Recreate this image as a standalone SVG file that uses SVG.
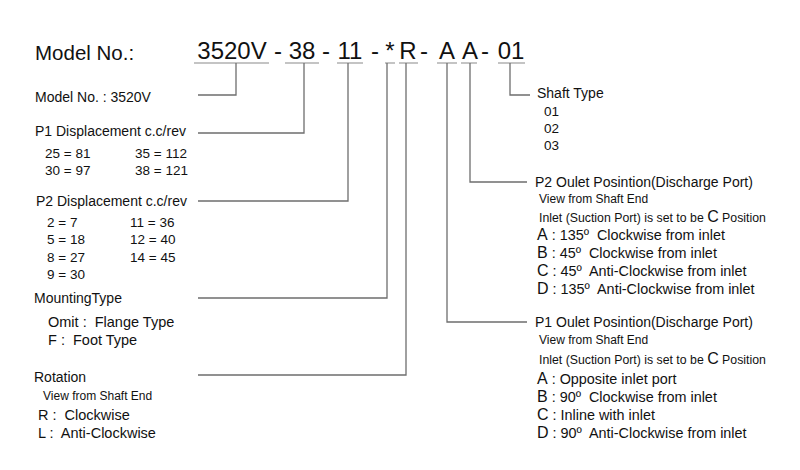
<svg xmlns="http://www.w3.org/2000/svg" width="800" height="470" viewBox="0 0 800 470">
<style>
text{font-family:"Liberation Sans",Arial,sans-serif;fill:#111}
.code{font-size:24px;text-anchor:middle}
.h{font-size:14px}
.o{font-size:14.4px}
.s{font-size:12px}
.i{font-size:12.3px}
.m{font-size:13.5px}
.b{font-size:14.5px}
.big{font-size:16px}
.ln{fill:none;stroke:#6e6e6e;stroke-width:1.3}
.ul{fill:none;stroke:#8a8a8a;stroke-width:1.2}
</style>
<rect width="800" height="470" fill="#fff"/>
<g id="title">
<text x="35" y="60" style="font-size:20.5px">Model No.:</text>
</g>
<g id="code">
<text class="code" x="232" y="59">3520V</text>
<text class="code" x="278" y="59">-</text>
<text class="code" x="302" y="59">38</text>
<text class="code" x="326" y="59">-</text>
<text class="code" x="350" y="59">11</text>
<text class="code" x="375" y="59">-</text>
<text class="code" x="390" y="59">*</text>
<text class="code" x="408" y="59">R</text>
<text class="code" x="424" y="59">-</text>
<text class="code" x="447" y="59">A</text>
<text class="code" x="470" y="59">A</text>
<text class="code" x="485" y="59">-</text>
<text class="code" x="511" y="59">01</text>
</g>
<g id="connectors">
<path class="ul" d="M194 63H269M285 63H319M337 63H363M385 63H395M399 63H418M437 63H457M461 63H477M498 63H525"/>
<path class="ln" d="M236 63V95H198"/>
<path class="ln" d="M304 63V133H198"/>
<path class="ln" d="M348 63V201H198"/>
<path class="ln" d="M387 63V298H198"/>
<path class="ln" d="M406 63V375H198"/>
<path class="ln" d="M447 63V322H527"/>
<path class="ln" d="M470 63V182H527"/>
<path class="ln" d="M510 63V95H530"/>
</g>
<g id="model">
<text class="h" x="35" y="102">Model No. : 3520V</text>
</g>
<g id="p1disp">
<text class="h" x="35" y="136">P1 Displacement c.c/rev</text>
<text class="m" x="45" y="158">25 = 81</text>
<text class="m" x="135" y="158">35 = 112</text>
<text class="m" x="45" y="175">30 = 97</text>
<text class="m" x="135" y="175">38 = 121</text>
</g>
<g id="p2disp">
<text class="h" x="36" y="206">P2 Displacement c.c/rev</text>
<text class="m" x="47" y="227">2 = 7</text>
<text class="m" x="130" y="227">11 = 36</text>
<text class="m" x="47" y="244">5 = 18</text>
<text class="m" x="130" y="244">12 = 40</text>
<text class="m" x="47" y="262">8 = 27</text>
<text class="m" x="130" y="262">14 = 45</text>
<text class="m" x="47" y="279">9 = 30</text>
</g>
<g id="mounting">
<text class="h" x="34" y="303">MountingType</text>
<text class="b" x="48" y="327">Omit :&#160; Flange Type</text>
<text class="b" x="48" y="345">F :&#160; Foot Type</text>
</g>
<g id="rotation">
<text class="h" x="34" y="382">Rotation</text>
<text class="s" x="43" y="400">View from Shaft End</text>
<text class="b" x="38" y="420">R :&#160; Clockwise</text>
<text class="b" x="38" y="438">L :&#160; Anti-Clockwise</text>
</g>
<g id="shaft">
<text class="h" x="537" y="98">Shaft Type</text>
<text class="m" x="544" y="116">01</text>
<text class="m" x="544" y="133">02</text>
<text class="m" x="544" y="150">03</text>
</g>
<g id="p2outlet">
<text class="h" x="535" y="187">P2 Oulet Posintion(Discharge Port)</text>
<text class="s" x="539" y="203">View from Shaft End</text>
<text class="i" x="539" y="222">Inlet (Suction Port) is set to be <tspan class="big">C</tspan> Position</text>
<text class="o" x="537" y="240"><tspan class="big">A</tspan> : 135º&#160; Clockwise from inlet</text>
<text class="o" x="537" y="258"><tspan class="big">B</tspan> : 45º&#160; Clockwise from inlet</text>
<text class="o" x="537" y="276"><tspan class="big">C</tspan> : 45º&#160; Anti-Clockwise from inlet</text>
<text class="o" x="537" y="294"><tspan class="big">D</tspan> : 135º&#160; Anti-Clockwise from inlet</text>
</g>
<g id="p1outlet">
<text class="h" x="535" y="327">P1 Oulet Posintion(Discharge Port)</text>
<text class="s" x="539" y="344">View from Shaft End</text>
<text class="i" x="539" y="364">Inlet (Suction Port) is set to be <tspan class="big">C</tspan> Position</text>
<text class="o" x="537" y="384"><tspan class="big">A</tspan> : Opposite inlet port</text>
<text class="o" x="537" y="402"><tspan class="big">B</tspan> : 90º&#160; Clockwise from inlet</text>
<text class="o" x="537" y="420"><tspan class="big">C</tspan> : Inline with inlet</text>
<text class="o" x="537" y="438"><tspan class="big">D</tspan> : 90º&#160; Anti-Clockwise from inlet</text>
</g>
</svg>
